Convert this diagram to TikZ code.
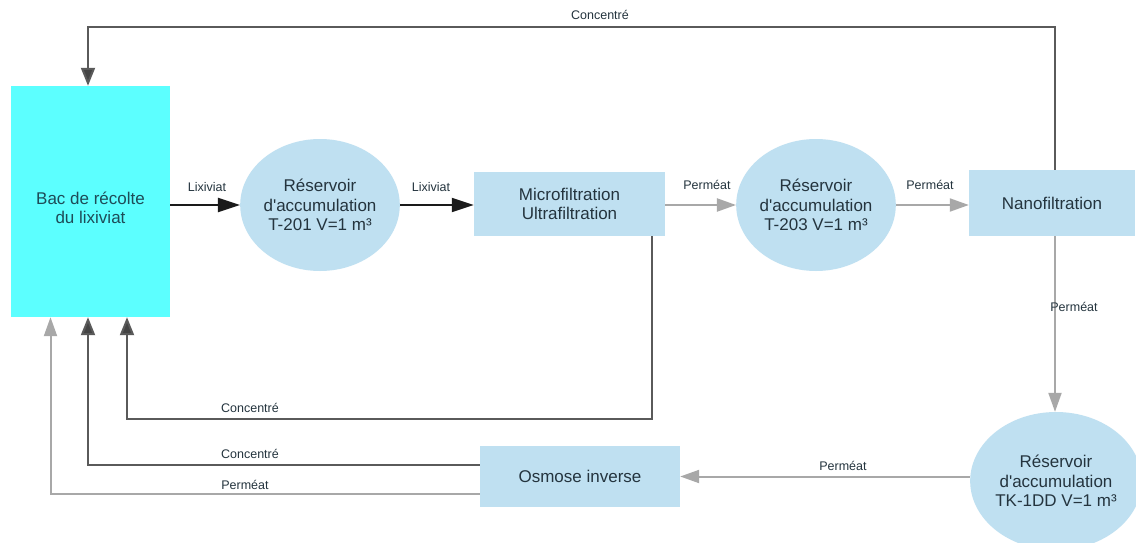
\documentclass[tikz,border=0pt]{standalone}
\usepackage{fontspec}
\setmainfont{Liberation Sans}
\usetikzlibrary{arrows.meta,shapes.geometric,calc}
\definecolor{cyanbac}{HTML}{5CFFFF}
\definecolor{lblue}{HTML}{BFE0F1}
\definecolor{txtc}{HTML}{24343E}
\definecolor{bactxt}{HTML}{1E4C58}
\definecolor{concc}{HTML}{5A5A5A}
\definecolor{concH}{HTML}{444444}
\definecolor{permc}{HTML}{A8A8A8}
\definecolor{blkc}{HTML}{1A1A1A}
\newcommand{\apos}{\textquotesingle}
\tikzset{
  procbox/.style={rectangle, fill=lblue, draw=none, text=txtc, align=center, inner sep=0pt, font=\fontsize{17}{19.5}\selectfont},
  tank/.style={ellipse, fill=lblue, draw=none, text=txtc, align=center, inner sep=0pt, font=\fontsize{17}{19.5}\selectfont},
  lbl/.style={text=txtc, inner sep=0pt, font=\fontsize{12.5}{14}\selectfont},
  blkflow/.style={draw=blkc, line width=2pt, -{Triangle[length=22pt,width=14pt]}},
  permflow/.style={draw=permc, line width=2pt, -{Triangle[length=19pt,width=13pt]}},
  concflow/.style={draw=concc, line width=2pt, -{Triangle[length=18pt,width=14pt,fill=concH]}},
}
\begin{document}
\begin{tikzpicture}[x=1pt,y=-1pt]
\useasboundingbox (0,0) rectangle (1136,543);
\fill[white] (0,0) rectangle (1136,543);
% nodes
\node[rectangle, fill=cyanbac, minimum width=159pt, minimum height=231pt, inner sep=0pt] (bac) at (90.5,201.5) {};
\node[text=bactxt, align=center, font=\fontsize{17}{19.5}\selectfont, inner sep=0pt] (bactext) at (90.5,208) {Bac de récolte\\du lixiviat};
\node[tank, minimum width=155pt, minimum height=132pt] (t201) at (320,205) {Réservoir\\d\apos accumulation\\T-201 V=1 m³};
\node[procbox, minimum width=191pt, minimum height=64pt] (mf) at (569.5,204) {Microfiltration\\Ultrafiltration};
\node[tank, minimum width=158pt, minimum height=132pt] (t203) at (816,205) {Réservoir\\d\apos accumulation\\T-203 V=1 m³};
\node[procbox, minimum width=166pt, minimum height=66pt] (nano) at (1052,203) {Nanofiltration};
\node[tank, minimum width=166pt, minimum height=138pt] (tk) at (1056,481) {Réservoir\\d\apos accumulation\\TK-1DD V=1 m³};
\node[procbox, minimum width=200pt, minimum height=61pt] (osm) at (580,476.5) {Osmose inverse};
% coordinates
\coordinate (tl) at (88,27);
\coordinate (c2) at (127,419);
% flows
\draw[blkflow] (bac.east |- t201.west) -- (t201.west);
\draw[blkflow] (t201.east) -- (t201.east -| mf.west);
\draw[permflow] (mf.east |- t203.west) -- (t203.west);
\draw[permflow] (t203.east) -- (t203.east -| nano.west);
\draw[concflow] ([xshift=3pt]nano.north) |- (tl) -- (tl |- bac.north);
\draw[permflow] ([xshift=3pt]nano.south) -- ([xshift=3pt]nano.south |- tk.north);
\draw[permflow] (tk.west |- osm.east) -- (osm.east);
\draw[concflow] ([xshift=-13pt]mf.south east) |- (c2) -- (c2 |- bac.south);
\draw[concflow] ([yshift=12pt]osm.west) -| ([xshift=-2.5pt]bac.south);
\draw[permflow] ([yshift=-17.5pt]osm.west) -| ([xshift=-40pt]bac.south);
% labels
\node[lbl] (l1) at (600,15) {Concentré};
\node[lbl] (l2) at (207,187) {Lixiviat};
\node[lbl] (l3) at (431,187) {Lixiviat};
\node[lbl] (l4) at (707,185) {Perméat};
\node[lbl] (l5) at (930,185) {Perméat};
\node[lbl] (l6) at (1074,307) {Perméat};
\node[lbl] (l7) at (843,466) {Perméat};
\node[lbl] (l8) at (250,408) {Concentré};
\node[lbl] (l9) at (250,454) {Concentré};
\node[lbl] (l10) at (245,485) {Perméat};
\end{tikzpicture}
\end{document}
